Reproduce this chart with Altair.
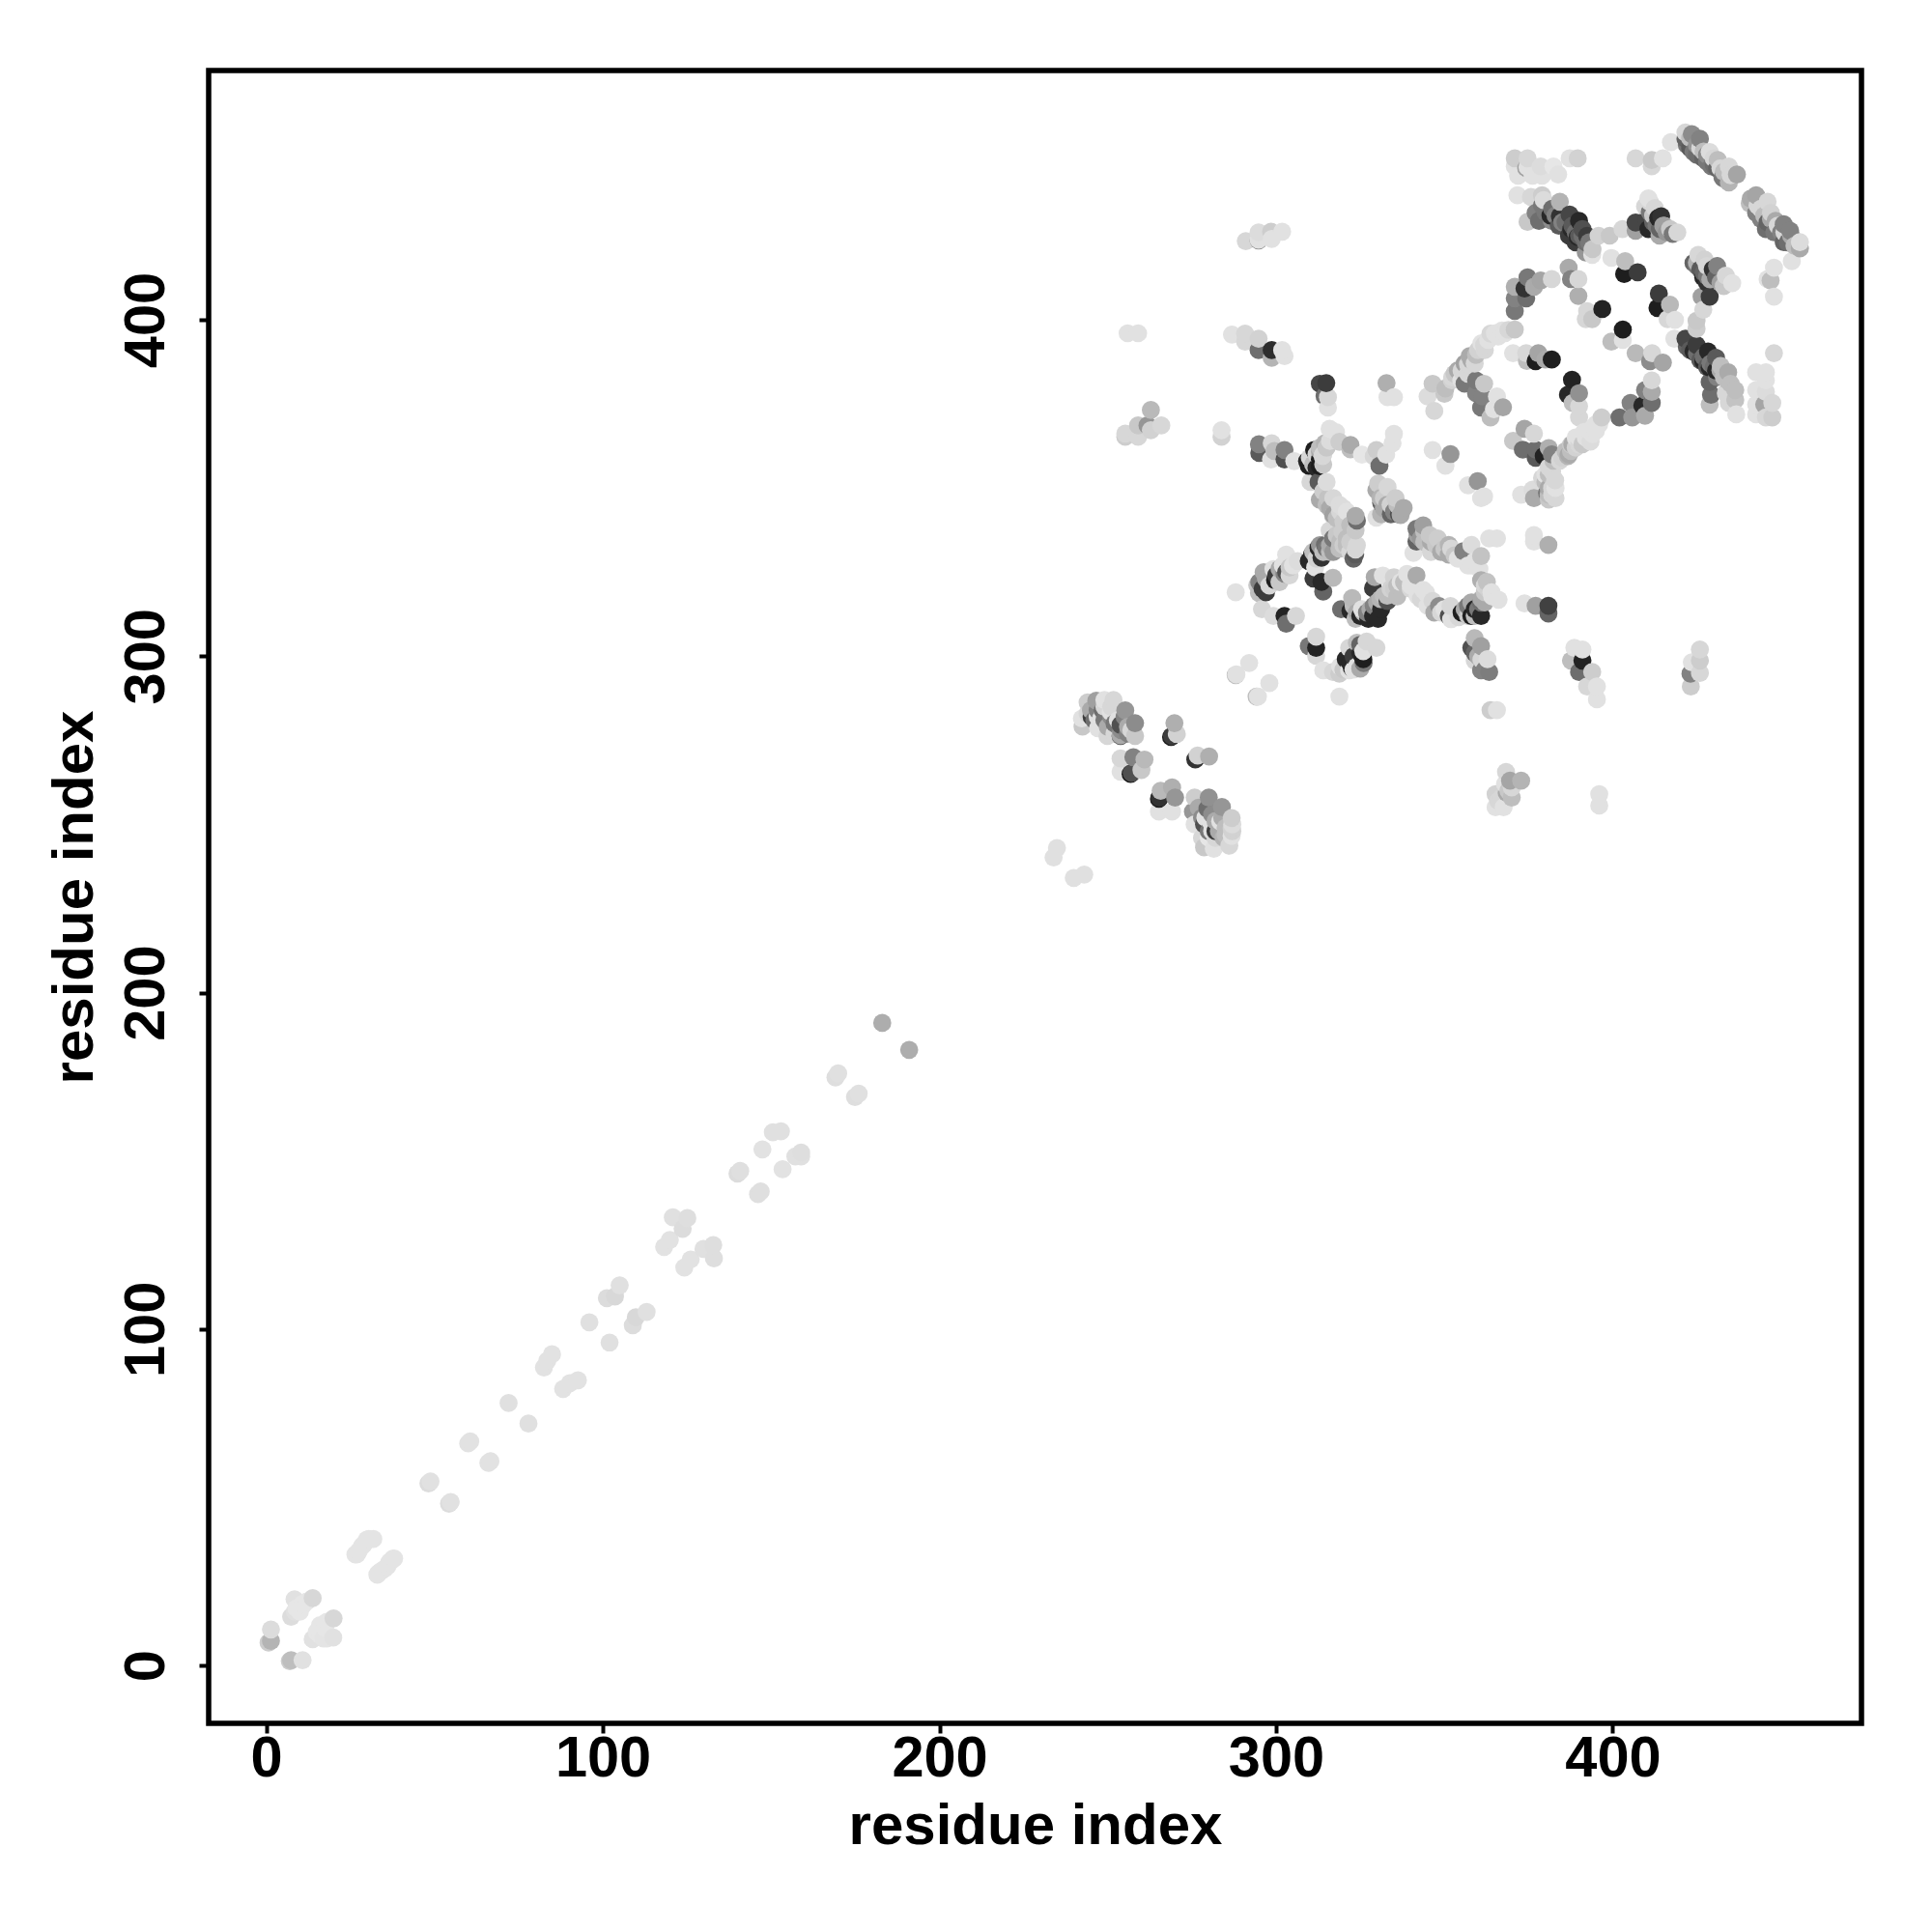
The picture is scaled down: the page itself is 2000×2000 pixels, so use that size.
import altair as alt
import pandas as pd

# (residue x, residue y, grey level 0-255)
tail_a = [(0.7,6.8,205),(1.4,7.3,180),(1.4,10.7,220),(7,1.3,205),(7.4,1.6,190),(10.8,1.6,225),
 (7.4,14.5,220),(8.4,19.7,225),(10.8,18.3,230),(13.8,20,215),(13.8,7.8,225),(17.5,11.1,230),(19.9,8.3,225),(20,14,215),
 (27,33.1,228),(28.5,35.5,228),(29.9,37.4,228),(31.8,37.6,228),(33.3,27.4,228),(35.2,28.8,228),(36.6,30.7,228),(37.6,31.7,228),
 (48.2,54.1,220),(48.8,54.7,225),(54.3,48.1,220),(54.8,48.6,225),(60,66,226),(60.6,66.6,226),(66,60.2,226),(66.6,60.7,226),
 (72,78,224),(77.9,71.9,224),(82.5,88.6,226),(83.5,90.6,226),(84.9,92.5,226),(88.2,82.2,226),(90.2,83.9,226),(92.6,84.8,226),
 (96,102,224),(102,96,224)]
tail_b = [(101.2,109.2,220),(103.6,109.7,216),(105,113,224),(108.9,101.1,220),(109.8,103.5,216),(113,105.1,224),
 (118.2,124.4,226),(119.9,126.5,226),(123.7,129.8,220),(120.8,133.2,224),(125.1,133,222),
 (124.2,118.3,226),(126.1,120.7,226),(129.9,123.8,224),(132.8,125,222),(133,121,222),
 (140,146.2,220),(140.8,147,223),(146.1,140.1,223),(146.9,140.9,223),(147.4,153.4,226),(150.5,158.5,224),(152.9,158.8,224),
 (153.4,147.5,226),(157.2,151.3,224),(158.9,152.5,222),(158.9,151.3,224),(169.1,174.8,222),(169.9,176,224),(174.9,169,222),(176,170,224),
 (183,191,173),(191,183,173),(233.9,240.2,224),(234.9,243,224),(239.9,234.1,224),(243,235.1,224)]
tail_fill = [(8.5,16,224),(9,17,230),(10,16,230),(12,19,230),(11,18,230),(15,10,230),(16,9,230),(18,13,230),(17,8,228),(18,8,228),(16,12,230),
 (26.5,33,228),(27.5,34,228),(29,36,228),(30.5,37.6,228),(33,27,228),(34,28,228),(36,29.5,228),(37,31,228),(38,31.8,228)]
block_a = [(242.5,279.1,200),(242.3,281.5,225),(244,286.3,205),(245.2,282,60),(246.6,286.8,160),(247.1,278.6,225),(248.5,283.9,110),(248,281.5,225),
 (249,287,225),(250.9,283.4,225),(251.7,287,215),(253.8,276.3,100),(253.8,279.6,80),(253.8,276.6,170),(249.9,276.3,215),(255.2,283.9,150),(258.1,276.3,200),(258.1,280.1,140),
 (253.8,269.6,215),(253.8,265.7,225),(256.8,265,20),(257.1,265.3,80),(257.6,270,130),(260,266.2,200),(260.9,269.3,185),
 (268.8,276,30),(269.1,276.3,60),(269.8,280.1,175),(270.5,276.9,210),(276,269.3,50),(276.7,270.5,210),(280.1,270.2,175),
 (265.2,257.6,30),(265.4,258,50),(265.7,260,185),(269.1,261,175),(270,258,150),(265.2,253.8,225),(269.1,253.8,225),
 (275.3,253.8,150),(275.8,258,205),(275.8,250,225),(278.6,250,80),(279.6,254.7,110),(280,258,145),(282,248,60),(280.5,250.9,225),(283.4,250.9,225),(283.9,255.2,150),
 (278.6,243.2,200),(281.5,242.8,225),(280,246.1,230),(284.4,246.1,180),(286.1,243.7,215),(286.8,246.6,225),(286.8,249,210),(286.8,251.9,205)]
block_fill = [(244,283,215),(245,284,170),(246,281,110),(247,284,130),(247,282,225),(248,279,225),(249,285,215),(249,281,120),(250,279,170),(251,285,215),(251,282,140),(252,280,120),(252,277,215),(253,281,225),(254,278,140),(255,282,130),(256,279,170),(256,277,130),(257,278,215),
 (277,255,170),(278,252,140),(278,246,215),(279,252,225),(280,248,120),(281,253,140),(281,248,225),(282,251,170),(282,246,215),(283,248,170),(284,252,170),(285,249,190),(285,247,190),(286,248,190),(287,248,210),(287,250,220),
 (366,257,215),(367,258,215),(368,262,225),(369,260,200),(370,261,215),(370,258,190)]
block_b = [(288,294.4,190),(288.2,294.6,225),(292,298,225),(294.2,288,190),(294.6,288,225),(298,292,225),
 (255.2,365.2,205),(255.2,366.2,215),(259,365.2,215),(259,368.6,200),(261.8,368.6,150),(262.8,373.2,185),(262.8,367.2,210),(265.9,368.6,215),
 (283.8,365.2,210),(283.8,367.2,225),(255.9,396,225),(259,396,225),
 (286.9,395.6,225),(290.8,393.5,215),(290.8,395.9,215),(294.8,391,110),(294.8,394.4,210),(298.7,388.7,180),(298.7,391,45),(301.8,391,225),(302.5,389.2,225),
 (291,423.4,215),(294.8,423.6,140),(294.8,423.8,225),(294.8,426,220),(298.7,424,225),(298.5,426.2,205),(301.8,426.2,225),
 (313,381,70),(314.9,381.2,60),(314.4,377.3,110),(315.4,373.9,225),(315.4,377,215),(332.8,381.2,175),(333.1,377,225),(335,377,225),
 (347,372.9,215),(345,377.2,220),(346.5,381,200),(350,378,200),(350.3,379.6,190),(352.2,382,210),(355,382,225),(356,381,120),(357.5,389.2,170),
 (346.5,361.3,225),(350.3,356.6,225),(351.8,360.1,150),(357,350.8,225),(361.8,347.5,225),(359.9,352,150),(360.9,347,225)]
cross_a = [(294.9,363,130),(295,360.4,90),(298.5,358.5,225),(298.7,363.3,215),(299.5,361,190),(302.5,358.5,80),(302.5,361.3,130),(305.4,358,225),
 (309.2,358,40),(309.7,356.6,30),(313,356.5,30),(311.3,361.3,30),(313,358.5,30),(314.5,363.3,180),(313.8,359.5,215),(315.9,367.6,225),(317.8,366.6,225),
 (310.2,351.8,215),(312.6,351.8,90),(315,351.8,220),(318.8,363.7,205),(322.1,361.5,190),(322.1,362.8,170),(325.5,359.9,230),(329,359.4,215),(330.7,356.6,110),(329.8,361.3,205),(332.7,359.9,225),(334.6,363.3,225),(335,366.1,225),
 (313,346.5,170),(315.4,347,195),(318.8,345,220),(316.9,341.7,215),(324,340.3,110),(323.6,341.7,170),(319.7,337,205),(323.6,337.4,200),(315.9,337.4,215),
 (316.9,335,120),(314.5,333.1,110),(312.6,332.2,40),(310.7,330.2,40),(309.7,328.3,40),(313.5,329.3,50),(318.8,332,190),(323.5,330.3,90),(323.6,331.7,215),
 (329.8,349.4,170),(330.3,351.3,205),(331.2,345.6,100),(333.1,350.3,215),(335.5,347,205),(329.8,341.2,225),(331.2,342.2,180),(334.1,342.2,100),(336.5,342.2,80),(337.9,344.1,170)]
cross_a_fill = [(310,359,215),(311,357,190),(312,356,40),(312,360,210),(313,361,170),(313,362,190),(314,357,200),(314,360,215),(315,362,200),(316,364,220),
 (314,349,205),(315,345,190),(316,344,170),(317,347,215),(317,342,160),(318,341,190),(319,343,215),(320,344,220),(321,343,225),(320,340,205),(322,339,190),(321,335,190),
 (311,331,190),(312,329,210),(313,333,150),(314,331,190),(315,332,120),(316,333,170),(316,331,190),(317,331,150),(318,336,200),(319,334,190),(320,333,205),(321,333,190),(322,331,215),(322,334,205),(323,329,100),(324,333,215),
 (331,347,180),(332,344,170),(332,347,205),(333,345,170),(334,345,210),(335,343,130),(336,345,190),(337,342,170)]
cross_b = [(340.8,330.7,225),(341.7,334.1,100),(341.7,337.9,120),(343.7,338.9,160),(345.6,336,200),(347.5,333.1,200),(351.3,330.2,170),(351.3,333.1,180),(355.6,331.2,130),
 (358,333.1,220),(360.9,329.8,195),(363.3,335,225),(365.6,335,225),(359,328.3,225),(360.4,325.9,225),(360.9,322.6,175),(362.6,322.1,195),
 (354.2,311.6,215),(355.6,313,30),(355.1,313,30),(358,312,30),(360.9,312,40),(359,314,40),(360.9,315.9,110),(364.2,317.8,225),(366.1,316.8,225),
 (358,302.5,80),(359,305.4,185),(360.9,303,160),(359,298.7,215),(360.9,295.8,130),(363.3,295.3,125),(362.8,299.1,220),
 (376.6,336,225),(376.6,334.1,225),(380.9,333.1,175),(373.8,315.7,225),(377.1,315,160),(380.9,312.7,100),(380.9,315,65)]
cross_b_fill = [(342,336,160),(343,335,150),(344,337,190),(344,334,190),(346,334,170),(346,331,215),(348,335,205),(349,331,170),(350,332,200),(352,332,215),(353,330,200),(354,329,225),(356,330,225),(357,327,225),(358,327,225),
 (355,312,215),(356,314,170),(357,312,200),(357,315,120),(358,316,170),(359,312,190),(360,314,120),(361,317,170),(362,319,200),(362,316,170),(363,320,210),(364,319,225),(362,321,215),
 (359,301,100),(360,300,170),(361,299,215),(362,296,130)]
cross_c = [(288,319,225),(294.9,318.8,190),(294.4,321.1,200),(296.3,325,170),(299.2,325.9,225),(299.7,322.6,30),(302.5,324.5,130),(303,330.2,225),(304,326.4,200),(306.4,328.3,220),
 (295.8,314,215),(299.2,312,220),(303,309.7,110),(302.5,312,35),(305.9,312,215),(311.6,326.4,225),(311.1,323.1,60),(314,319.2,100),(313.5,322.1,40),(316.9,323.3,185),
 (323.6,311.1,190),(319.3,314,110),(322.1,313.5,40),(322.6,317.3,185),(325.5,314,225),(327.4,311.1,40),(328.8,312,40),(330.3,311.1,40),(331.2,314,40),(333.1,316.4,80),(328.8,320.2,60),(329.3,323.5,170),(331.7,324,225),
 (334,320,210),(336,317.8,190),(335,323.5,210),(338.9,320.7,190),(338.9,324.5,225),(341.7,324,170),(343.7,319.7,225),(344.6,318.8,225),(346.5,316.4,215),(351.3,312,80),(348.4,314.9,140),(351.8,314.9,215),
 (309.7,303,120),(311.9,302.5,35),(311.9,300.1,215),(311.9,305.8,215),(325,303.4,100),(326.9,304.4,215),(329.8,302.5,215),(320.7,299.1,40),(321.7,302.5,215),(325.9,301.5,225),(325.9,299.1,30),(325,296.3,170),
 (318.8,294.8,205),(322.5,296.5,50),(321.7,295.8,225),(314,295.8,225),(316.9,295.3,215),(318.8,288,225)]
cross_c_fill = [(323,315,190),(324,313,170),(325,312,40),(326,313,190),(327,313,130),(328,314,170),(329,315,130),(330,316,170),(331,317,180),(332,318,190),(333,318,190),(335,320,205),(336,321,190),(337,322,225),(338,322,190),(340,321,225),(340,320,215),(342,318,225),(343,317,215),(345,315,225),(347,313,170),(349,313,215),(350,314,225),(352,311,225),
 (295,322,130),(296,320,60),(297,319,60),(297,323,170),(298,321,215),(300,324,60),(301,326,170),(301,322,200),(302,327,225),(303,325,80),(304,324,215),(305,327,225),
 (322,298,40),(323,300,60),(323,296,225),(324,297,225),(324,304,190),(325,301,40),(326,298,120),(320,296,200),(319,297,225)]
upper_a = [(370.9,448,205),(370.9,445.6,225),(374.3,445.1,160),(374.7,445.4,225),(374.7,448,215),(371.9,442.8,225),(376.2,442.8,225),(378.6,445.6,220),(379,442.8,225),(382.4,445.6,230),(383.8,443.2,225),(387.2,448,225),(389.6,448,210),
 (371.7,437,225),(374.7,429.1,200),(378.1,429.4,110),(377.1,431.8,130),(375.7,436.5,215),(379,434,120),(379,437,205),(379.5,435.6,220),(381.9,429.4,140),(381.5,431,40),(384.3,430.8,50),(384.3,435.1,180),(387.2,431.3,70),
 (387.7,427,40),(390,429.4,40),(389.6,424.6,40),(391,427,80),(392.4,425,60),(393.4,422.7,70),(393.9,419.3,225),(395.8,425,210),(399.1,425,200),(402.9,427,215),
 (406.8,426.5,160),(406.8,428.9,70),(406.8,448,215),(411.6,445.6,215),(411.6,447.5,200),(414.9,448,225),(417.3,452.8,225),
 (421.6,453.8,100),(421.6,455.7,215),(423.5,455.2,140),(425.9,453.8,130),(424,449.9,120),(426.9,448,100),(428.8,449.9,220),(429.3,445.6,120),(431.2,447.5,190),(432.6,442.3,120),(434.5,440.8,180),(434.5,445.6,215),(436.9,443.2,165),
 (440.7,434.6,190),(442.6,431.8,130),(442.6,437,165),(445.5,427,110),(446,435.1,215),(447,431.8,210),(448.4,429.4,170),(450.8,423.1,100),(450.8,428.4,130),(452.7,426.5,130),(455.6,421.2,170),(455.6,423.1,220),
 (453.2,417.4,225),(447.9,415.5,225),(446,412.1,225),(446.9,411.7,190),(447.9,406.9,225)]
upper_a_fill = [(422,452,120),(423,454,190),(423,451,90),(425,449,110),(425,452,150),(426,451,215),(427,450,190),(428,447,120),(428,449,140),(430,446,110),(430,448,215),(431,445,100),(432,445,215),(433,444,190),(433,442,130),(435,443,215),
 (441,436,170),(443,434,215),(444,433,215),(444,430,130),(445,431,190),(446,429,100),(447,430,170),(448,426,120),(449,428,215),(450,426,130),(451,426,215),(452,423,110),(453,425,170),(454,422,190),
 (380,432,120),(382,433,110),(383,431,130),(384,428,90),(385,429,130),(386,429,110),(387,425,60),(388,428,90),(389,423,60),(389,426,110),(390,425,90),(391,425,110),(392,420,150),(392,423,110),(393,423,120),(394,421,200)]
upper_b = [(410.1,429.8,70),(410.6,427,40),(409.6,433.7,215),(410.6,436.1,225),(412.5,433.2,215),(413.5,430.3,40),(414.4,430.8,50),(413.9,425,170),(415.4,427.9,190),(417.8,425.5,120),(419.2,426,215),
 (424,416.9,100),(425.4,419.3,215),(427.3,417.9,210),(426.9,412.6,40),(428,411,50),(429.7,415,50),(430.7,412.6,100),(433.6,413.1,215),(435.5,410.9,225),
 (426.4,406.9,160),(428.8,406.9,60),(426.9,403,215),(424.9,399.7,200),(424.9,397.3,205),
 (386.9,415.5,170),(387.6,412.1,130),(389.8,412.1,215),(389.8,407.1,175),(392.4,402.6,215),(392,400.2,215),(393.9,400.2,200),(396.9,403.2,35),
 (399.6,418.4,225),(403.7,417.4,190),(403.4,413.6,30),(407.4,414.1,60),(413.3,403.5,30),(413.7,407.8,60),(417,404.5,185),(416.3,400.2,215),(418.5,400,225),
 (399.6,393.5,190),(403,394,225),(403,397.1,30),(406.8,390.1,185),(411.1,387.7,140),(411.7,390.1,215),(414.9,387.3,165),
 (370.9,402.6,120),(370.9,406.4,130),(370.9,409.8,175),(374.3,406.4,110),(373.8,409.3,50),(374.7,412.6,120),(376.6,409.8,170),(378.6,411.7,165),(381.9,412.1,215)]
upper_b_fill = [(411,432,120),(411,435,215),(412,429,100),(412,431,200),(413,428,120),(414,427,100),(415,428,160),(416,426,150),(417,427,200),
 (425,416,120),(425,417,180),(426,415,90),(427,414,100),(428,413,120),(428,416,215),(429,412,170),(431,416,130),(432,411,160),(433,410,200),(434,412,200)]
upper_c = [(352.3,382.9,215),(355.1,384.9,215),(357,386.8,215),(359.4,389.6,190),(361.8,392.5,215),(363.7,395.9,215),(367.1,396.8,225),(370.9,397.1,200),
 (359.4,378.2,130),(359.4,382,120),(361.8,381,200),(361.3,377.2,130),(360.9,373.9,120),(363.7,371,190),(365.6,377.2,225),(364.7,373.4,225),(367.4,374,165),
 (370.4,390.1,225),(374.3,390.1,215),(374.5,387.8,190),(377.1,387.7,30),(377.9,390.1,165),(381.9,388.2,30),(380,388.2,170),
 (386.7,377.7,40),(387.9,382.2,35),(388.1,375.3,190),(390,378.2,145),(390,374.3,215),(390,371,215),
 (370.4,364,200),(373.3,361.4,110),(373.8,367.6,165),(376.6,366.2,215),(377.1,359,90),(377.1,361.4,110),(379.5,359.5,35),(381,361.9,175),(381.9,360,130),(382.4,358.1,190),(381,356.2,215),
 (380.5,348.5,120),(381,346.6,200),(380,351.8,190),(382.9,352.3,215),(376.2,349.5,220),(372.8,348,225),(376.6,347,170),
 (384.3,358.1,215),(386.7,359.5,180),(387.6,361,190),(387.6,362.9,200),(390,362.9,215),(391.5,366.7,225),(393.4,363.8,220),(394.3,368.1,225),(396.7,371,205),
 (402,371,110),(405.3,375.3,130),(405.8,371,150),(408.8,374.5,40),(409.6,371.5,170),(409.6,379.1,130),(411.6,375.3,110),(411.6,378.6,170),(411.6,382,215)]
upper_c_fill = [(353,384,200),(354,385,170),(356,387,160),(357,384,215),(358,388,170),(359,387,215),(360,391,210),(361,393,225),(362,391,215),(363,394,225),(365,396,225),(366,395,225),(368,396,225),(369,397,215),
 (385,359,210),(386,361,190),(387,360,170),(388,363,170),(389,362,210),(389,365,225),(390,365,225),(391,363,200),(392,365,225),(393,367,225),(394,366,225),(395,367,225),(395,369,225),(396,369,225),
 (379,353,215),(380,354,225),(381,354,190),(381,350,170),(381,348,190),(382,355,215),(382,350,215),(382,348,215),(383,350,225),(383,347,215)]
right_a = [(418.3,394.4,225),(421.6,394.4,70),(424,390.6,40),(424.9,392.5,60),(426.9,387.7,40),(428.3,390.6,40),(428.8,385.8,40),(430.7,384.9,40),(430.7,388.7,90),(432.1,386.3,190),(434.3,384.4,170),
 (428.8,374.8,190),(428.8,381.5,100),(429.2,377.7,110),(433.6,378.2,215),(436.4,379.1,190),(436.4,376.2,195),(434.5,375.3,215),(436.7,371.9,225),
 (447.9,390.1,215),(445.5,384.4,225),(442.6,384.4,225),(445.5,382,225),(442.6,379.1,225),(445.5,378.6,220),(445,374.8,165),(442.6,374.8,225),(447.4,375.3,215),(442.6,371.9,225),(445.5,371,215),(447.4,371,205)]
right_a_fill = [(422,392,100),(423,391,90),(425,390,110),(426,388,90),(427,389,110),(428,386,90),(429,387,120),(430,386,110),(431,383,130),(432,385,170),(433,383,190),(434,382,190),(435,381,190)]
lower_a = [(387.6,298.7,190),(388.6,302.5,225),(391,302,225),(391,298.7,35),(390,295.3,110),(393.9,295.3,205),(392.4,291,215),(395.3,291,225),(395.3,287.2,225),
 (423.1,294.8,130),(423.2,291,205),(423.5,298.2,225),(425.9,295,215),(425.9,298.7,205),(425.9,302,215),
 (363.7,284,205),(365.6,284,225),(368.3,265.6,215),(365.2,259,210),(365.2,255.1,225),(367.6,255.1,225),(368.5,259.4,170),(369.5,263,165),(372.8,263,180),(396,259,225),(396,255.6,225)]

clusters = [tail_a, tail_fill, tail_b, block_a, block_fill, block_b, cross_a, cross_a_fill, cross_b, cross_b_fill,
            cross_c, cross_c_fill, upper_a, upper_a_fill, upper_b, upper_b_fill, upper_c, upper_c_fill,
            right_a, right_a_fill, lower_a]
rows = [p for c in clusters for p in c]
df = pd.DataFrame(rows, columns=["x", "y", "grey"])
# the reference draws column by column: higher residue x on top, and higher y on top within a column
df["col"] = df["x"].round()
df = df.sort_values(["col", "y"]).reset_index(drop=True)
df["order"] = range(len(df))

tick_values = [0, 100, 200, 300, 400]
FONT = "Liberation Sans"

x_axis = alt.Axis(title="residue index", values=tick_values, grid=False, domain=False, tickColor="black",
                  tickWidth=4, tickSize=10, labelFont=FONT, labelFontWeight="bold", labelFontSize=59.5,
                  labelColor="black", labelPadding=-3, titleFont=FONT, titleFontWeight="bold", titleFontSize=60,
                  titleColor="black", titlePadding=12)
y_axis = alt.Axis(title="residue index", values=tick_values, grid=False, domain=False, tickColor="black",
                  tickWidth=4, tickSize=10, labelFont=FONT, labelFontWeight="bold", labelFontSize=59.5,
                  labelColor="black", labelAngle=270, labelAlign="center", labelBaseline="bottom", labelPadding=25,
                  titleFont=FONT, titleFontWeight="bold", titleFontSize=60, titleColor="black", titlePadding=13)

chart = (
    alt.Chart(df)
    .mark_circle(opacity=1, size=350, stroke=None)
    .encode(
        x=alt.X("x:Q", axis=x_axis, scale=alt.Scale(domain=[-17.1, 473.9], nice=False, zero=False)),
        y=alt.Y("y:Q", axis=y_axis, scale=alt.Scale(domain=[-17.2, 474.1], nice=False, zero=False)),
        color=alt.Color("grey:Q", legend=None,
                        scale=alt.Scale(domain=[0, 255], range=["#000000", "#ffffff"], interpolate="rgb")),
        order=alt.Order("order:Q"),
    )
    .properties(width=1711, height=1711, background="white",
                autosize=alt.AutoSizeParams(type="none"),
                padding={"left": 208, "top": 65, "right": 60, "bottom": 200})
    .configure_view(stroke="black", strokeWidth=5.5)
)

chart.save("out.html", embed_options={"renderer": "svg", "actions": False})
